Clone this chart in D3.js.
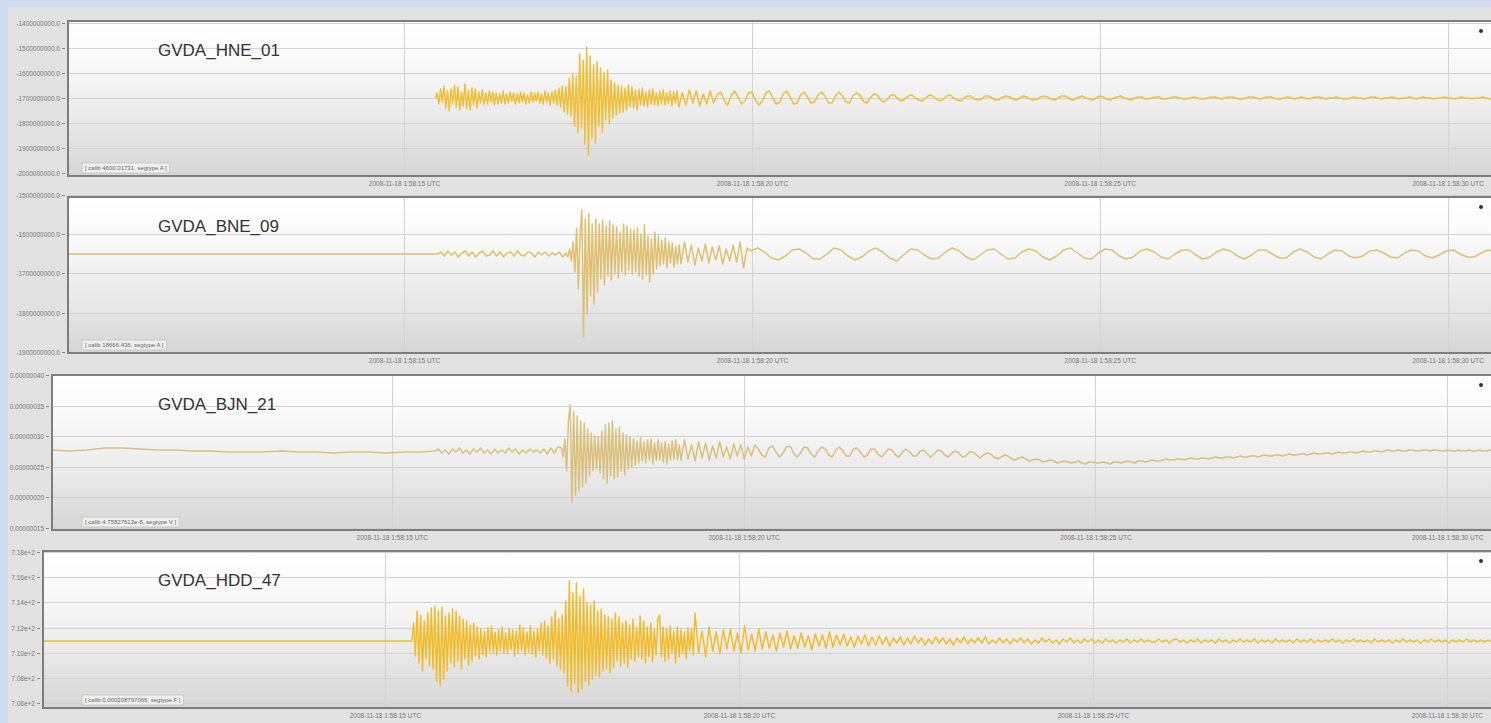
<!DOCTYPE html>
<html>
<head>
<meta charset="utf-8">
<script src="https://cdn.jsdelivr.net/npm/d3@7"></script>
<style>
  html, body { margin: 0; padding: 0; background: #cfdbee; overflow: hidden; }
  svg { display: block; }
</style>
</head>
<body>
<svg id="chart" width="1491" height="723"></svg>
<script>
// ---- Data -----------------------------------------------------------
// Time is in seconds after 2008-11-18 01:58:00 UTC.
const timeDomain = [10.17, 30.68];
const timeTicks = [15, 20, 25, 30];
const timeTickLabels = [
  "2008-11-18 1:58:15 UTC",
  "2008-11-18 1:58:20 UTC",
  "2008-11-18 1:58:25 UTC",
  "2008-11-18 1:58:30 UTC"
];

const stationNames = ["GVDA_HNE_01", "GVDA_BNE_09", "GVDA_BJN_21", "GVDA_HDD_47"];
const calibLabels = [
  "[ calib 4600.01731, segtype A ]",
  "[ calib 18666.436, segtype A ]",
  "[ calib 4.75827613e-8, segtype V ]",
  "[ calib 0.000208797066, segtype F ]"
];

// amplitude ranges and tick values per channel
const yDomains = [[-78, 77], [-99, 57], [-79, 76], [-67, 90]];
const yTickValues = [
  [75, 50, 25, 0, -25, -50, -75],
  [59, 20, -19, -59, -98],
  [76, 45, 15, -16, -46, -77],
  [89, 64, 39, 13, -12, -37, -62]
];
const yTickLabels = [
  ["-1400000000.0", "-1500000000.0", "-1600000000.0", "-1700000000.0", "-1800000000.0", "-1900000000.0", "-2000000000.0"],
  ["-1500000000.0", "-1600000000.0", "-1700000000.0", "-1800000000.0", "-1900000000.0"],
  ["0.00000040", "0.00000035", "0.00000030", "0.00000025", "0.00000020", "0.00000015"],
  ["7.18e+2", "7.16e+2", "7.14e+2", "7.12e+2", "7.10e+2", "7.08e+2", "7.06e+2"]
];

// GVDA_HNE_01 — record starts with the P arrival (fine sampling), then coda
const hneBurstStart = 15.45, hneBurstStep = 0.025;
const hneBurst = [
  0, 5, -6, 9, -4, 12, -10, 7, -13, 9,
  -6, 13, -9, 11, -12, 6, -8, 14, -11, 8,
  -12, 10, -7, 9, -10, 6, -5, 8, -7, 5,
  -6, 7, -4, 6, -7, 5, -6, 4, -5, 7,
  -6, 4, -5, 6, -3, 5, -6, 4, -5, 6,
  -4, 5, -6, 3, -5, 6, -4, 5, -3, 6,
  -5, 4, -6, 7, -4, 5, -7, 6, -5, 8,
  -7, 10, -9, 12, -14, 11, -16, 20, -18, 24,
  -28, 22, -35, 44, -30, 38, -46, 51, -57, 42,
  -40, 33, -45, 36, -28, 30, -34, 25, -22, 28,
  -26, 18, -20, 15, -17, 13, -15, 12, -14, 10,
  -12, 13, -9, 11, -10, 8, -12, 9, -7, 10,
  -8, 6, -9, 8, -6, 9, -7, 5, -8, 7,
  -6, 8, -7, 5, -6, 7, -8, 6, -5, 7
];
const hneCodaStart = 18.95, hneCodaStep = 0.05;
const hneCoda = [
  -9, 5, -7, 8, -5, 7, -8, 4, -6, 7,
  -5, 3, 6, -2, -7, 2, 7, 1, -6, -3,
  5, 6, -2, -7, -3, 5, 7, 0, -6, -4,
  4, 7, 1, -6, -5, 3, 6, 1, -5, -4,
  3, 6, 2, -5, -5, 2, 6, 2, -4, -5,
  2, 5, 3, -3, -5, 0, 4, 3, -2, -4,
  -1, 3, 3, -1, -3, -1, 2, 3, 0, -2,
  -3, 0, 3, 2, -1, -3, -1, 2, 3, 0,
  -2, -3, 0, 2, 2, -1, -2, -1, 2, 2,
  0, -2, -2, 1, 2, 1, -1, -2, 0, 2,
  1, -1, -2, -1, 1, 2, 1, -1, -2, 0,
  2, 2, 0, -2, -1, 1, 2, 0, -1, -2,
  0, 2, 1, -1, -2, 0, 1, 2, 0, -1,
  -2, 0, 1, 1, -1, -1, 0, 1, 1, -1,
  -1, 0, 1, 1, 0, -1, -1, 0, 1, 0,
  -1, -1, 0, 1, 1, 0, -1, 0, 1, 1,
  0, -1, -1, 0, 1, 1, 0, -1, 0, 1,
  1, 0, -1, -1, 0, 1, 0, -1, 0, 1,
  0, -1, 0, 1, 1, 0, -1, 0, 0, 1,
  0, -1, -1, 0, 1, 0, 0, -1, 0, 1,
  1, 0, -1, 0, 0, 1, 0, -1, 0, 0,
  1, 0, -1, 0, 1, 0, 0, -1, 0, 0,
  1, 0, 0, -1, 0, 1, 0, 0, -1, 0,
  0, 1, 0, -1, 0, 0
];

// GVDA_BNE_09
const bneQuietStart = 10.17, bneQuietStep = 0.5;
const bneQuiet = [0, 0, 0, 0, 0, 0, 0, 0, 0, 0, 0];
const bnePreStart = 15.48, bnePreStep = 0.05;
const bnePre = [
  0, 2, -2, 3, -1, 2, -3, 1, 3, -2,
  2, -3, 1, 3, -2, -1, 3, -2, 2, -3,
  1, 2, -2, 3, -1, -2, 2, 1, -3, 2,
  -1, 2, -2, 1, -1, 2, -3
];
const bneBurstStart = 17.33, bneBurstStep = 0.025;
const bneBurst = [
  1, -3, 5, -7, 12, -18, 26, -35, 20, 44,
  -83, 35, -60, 40, -42, 30, -50, 35, -38, 30,
  -25, 34, -31, 28, -22, 33, -26, 29, -20, 27,
  -24, 22, -18, 30, -21, 28, -16, 25, -20, 24,
  -18, 26, -22, 20, -25, 29, -21, 18, -28, 15,
  -20, 22, -15, 18, -12, 14, -10, 16, -14, 12,
  -9, 11, -13, 8, -10, 9
];
const bneCodaStart = 18.98, bneCodaStep = 0.05;
const bneCoda = [
  -10, 12, -8, 9, -11, 6, -7, 10, -9, 7,
  -6, 8, -10, 5, -7, 9, -8, 12, -14, 6
];
// long-period surface waves
const bneLateStart = 19.98, bneLateStep = 0.1;
const bneLate = [
  3, 6, 2, -4, -6, -2, 4, 5, 1, -5,
  -5, 0, 6, 4, -2, -6, -3, 3, 6, 2,
  -4, -7, -1, 5, 4, -1, -5, -4, 2, 6,
  3, -3, -6, -1, 4, 5, 0, -5, -4, 2,
  5, 3, -3, -6, -2, 4, 6, 1, -4, -5,
  1, 5, 4, -2, -5, -3, 3, 5, 2, -3,
  -5, 0, 4, 4, -1, -5, -3, 2, 5, 3,
  -2, -5, -1, 4, 4, 0, -4, -4, 2, 5,
  2, -3, -5, 0, 4, 3, -2, -4, -2, 3,
  4, 1, -3, -4, 1, 4, 3, -2, -4, -1,
  3, 4, 0, -3, -3, 1, 4, 2
];

// GVDA_BJN_21
const bjnQuietStart = 10.17, bjnQuietStep = 0.25;
const bjnQuiet = [1, 0, 1, 3, 3, 2, 1, 1, 0, 0, -1, -1, -1, 0, -1, -1, -2, -1, -1, -2, -1, -1];
const bjnPreStart = 15.61, bjnPreStep = 0.05;
const bjnPre = [
  0, 2, -2, 1, -3, 2, -1, 3, -2, 1,
  -3, 2, -1, 3, -2, 1, -3, 2, -2, 1,
  -2, 3, -1, 2, -3, 1, -2, 2, -1, 1,
  -2, 2, -3, 3, -2, 4
];
const bjnBurstStart = 17.41, bjnBurstStep = 0.025;
const bjnBurst = [
  3, -6, 12, -20, 30, 46, -51, 40, -44, 35,
  -40, 30, -36, 28, -32, 22, -25, 18, -20, 15,
  -18, 14, -22, 20, -28, 26, -32, 28, -25, 30,
  -28, 22, -26, 24, -20, 18, -24, 16, -18, 14,
  -16, 12, -14, 10, -12, 13, -10, 9, -12, 11,
  -9, 12, -13, 8, -10, 11, -9, 8, -11, 9,
  -13, 7, -9, 10, -8, 11, -9, 6
];
const bjnCodaStart = 19.11, bjnCodaStep = 0.05;
const bjnCoda = [
  -9, 11, -8, 6, -10, 9, -7, 8, -9, 5,
  -7, 9, -6, 4, -8, 7, -5, 6, -8, 4,
  -5, 6, 2, -4, -6, 3, 5, -1, -6, -2,
  4, 5, -2, -6, -2, 4, 3, -3, -6, 0,
  4, 2, -4, -6, 1, 4, 0, -5, -5, 2,
  3, -1, -6, -4, 2, 2, -3, -6, -2, 2,
  1, -4, -6, -1, 2, -1, -5, -5, 0, 1,
  -3, -6, -3, 1, 0, -4, -6, -2, 0, -2,
  -6, -5, -1, -1, -4, -7, -4, -2, -3, -6,
  -8, -6, -4, -5, -8, -9, -7, -6, -8, -10,
  -9, -8, -9, -11, -10, -9, -10, -12, -11, -10,
  -11, -12, -11, -10, -12, -13, -11, -11, -12, -12,
  -11, -12, -13, -11, -11, -12, -11, -10, -11, -12,
  -10, -10, -11, -10, -9, -10, -10, -9, -8, -9,
  -9, -8, -8, -9, -8, -7, -8, -8, -7, -7,
  -8, -7, -6, -7, -7, -6, -6, -7, -6, -5,
  -6, -6, -5, -5, -6, -5, -4, -5, -5, -4,
  -4, -5, -4, -3, -4, -4, -3, -3, -4, -3,
  -2, -3, -3, -2, -2, -3, -2, -1, -2, -2,
  -1, -1, -2, -1, 0, -1, -1, 0, 0, -1,
  0, 1, 0, 0, 1, 0, 0, 1, 1, 0,
  0, 1, 1, 0, 1, 1, 0, 0, 1, 0,
  0, 1, 0, 0, 1, 0, 0, 1, 0, 0,
  1, 0
];

// GVDA_HDD_47
const hddQuietStart = 10.17, hddQuietStep = 0.5;
const hddQuiet = [0, 0, 0, 0, 0, 0, 0, 0, 0, 0, 0];
const hddBurstStart = 15.38, hddBurstStep = 0.025;
const hddBurst = [
  0, 18, -15, 30, -22, 26, -30, 20, -18, 28,
  -25, 33, -28, 35, -40, 30, -45, 34, -38, 25,
  -30, 28, -22, 32, -26, 30, -20, 25, -28, 22,
  -18, 20, -24, 16, -20, 18, -15, 14, -18, 12,
  -14, 10, -16, 13, -11, 15, -12, 9, -14, 11,
  -10, 14, -12, 8, -13, 12, -9, 11, -15, 10,
  -12, 16, -10, 13, -14, 9, -11, 15, -13, 10,
  -16, 12, -10, 18, -14, 20, -17, 15, -22, 24,
  -18, 30, -25, 22, -28, 26, -32, 40, -45, 60,
  -50, 48, -42, 58, -52, 45, -48, 52, -40, 38,
  -44, 36, -38, 40, -34, 30, -36, 32, -30, 26,
  -28, 24, -32, 22, -26, 28, -20, 24, -25, 18,
  -22, 20, -26, 16, -18, 22, -20, 14, -16, 25,
  -18, 20, -22, 14, -16, 18, -20, 12, -14, 22,
  26, -16, 14, -20, 12, -18, 15, -12, 10, -22,
  14, -16, 11, -12, 9, -18, 13, -10, 12, -14
];
const hddCodaStart = 19.38, hddCodaStep = 0.05;
const hddCoda = [
  28, -12, 10, -16, 14, -10, 9, -13, 11, -8,
  12, -10, 8, -12, 15, -9, 7, -10, 12, -8,
  9, -7, 6, -10, 8, -6, 10, -8, 5, -7,
  8, -6, 5, -9, 7, -5, 6, -7, 9, -6,
  6, -4, 7, -5, 4, -6, 5, -3, 6, -5,
  4, -4, 5, -3, 4, -5, 3, -2, 4, -4,
  3, -3, 5, -2, 3, -4, 2, -3, 4, -2,
  3, -3, 2, -4, 3, -2, 4, -3, 2, -2,
  3, -2, 4, -3, 1, -2, 3, -2, 2, -3,
  2, -1, 3, -2, 2, -3, 1, -2, 3, -1,
  2, -2, 1, -3, 2, -1, 3, -2, 1, -2,
  2, -1, 2, -2, 1, -2, 2, -1, 1, -2,
  1, -1, 2, -2, 1, -1, 2, -1, 1, -1,
  -1, 2, -1, 1, -2, 1, 2, -1, 1, -2,
  1, -1, 2, -2, 1, -1, 1, -2, 2, -1,
  1, -2, 1, -1, 2, -1, 1, -1, 2, -2,
  1, -1, 1, -2, 2, -1, 1, -1, 1, -2,
  2, -1, 1, -1, 2, -2, 1, -1, 1, -1,
  2, -1, 1, -2, 1, -1, 2, -1, 1, -1,
  1, -2, 2, -1, 1, -1, 1, -2, 1, -1,
  2, -1, 1, -1, 1, -2, 1, -1, 2, -1,
  1, -1, 1, -2, 1, -1, 1, -1, 2, -1,
  1, -1, 1, -1, 1, -1, 1
];

const traceSegments = [
  [{ start: hneBurstStart, step: hneBurstStep, values: hneBurst },
   { start: hneCodaStart, step: hneCodaStep, values: hneCoda }],
  [{ start: bneQuietStart, step: bneQuietStep, values: bneQuiet },
   { start: bnePreStart, step: bnePreStep, values: bnePre },
   { start: bneBurstStart, step: bneBurstStep, values: bneBurst },
   { start: bneCodaStart, step: bneCodaStep, values: bneCoda },
   { start: bneLateStart, step: bneLateStep, values: bneLate }],
  [{ start: bjnQuietStart, step: bjnQuietStep, values: bjnQuiet },
   { start: bjnPreStart, step: bjnPreStep, values: bjnPre },
   { start: bjnBurstStart, step: bjnBurstStep, values: bjnBurst },
   { start: bjnCodaStart, step: bjnCodaStep, values: bjnCoda }],
  [{ start: hddQuietStart, step: hddQuietStep, values: hddQuiet },
   { start: hddBurstStart, step: hddBurstStep, values: hddBurst },
   { start: hddCodaStart, step: hddCodaStep, values: hddCoda }]
];

// ---- Layout & style --------------------------------------------------
const W = 1491, H = 723;
const plotRight = 1495;
const panelBoxes = [
  { top: 21, bottom: 176, left: 68 },
  { top: 197, bottom: 353, left: 68 },
  { top: 375, bottom: 530, left: 52 },
  { top: 551, bottom: 708, left: 43 }
];
const traceColors = ["#efbf38", "#dfc070", "#d9c07c", "#f1bc2c"];

const svg = d3.select("#chart");
svg.append("rect").attr("width", W).attr("height", H).attr("fill", "#cfdbee");
svg.append("rect").attr("x", 8).attr("y", 7).attr("width", W).attr("height", H).attr("fill", "#e2e2e2");

const defs = svg.append("defs");
const grad = defs.append("linearGradient").attr("id", "plotBg")
  .attr("x1", 0).attr("y1", 0).attr("x2", 0).attr("y2", 1);
[[0, "#ffffff"], [0.3, "#f8f8f8"], [0.65, "#e9e9e9"], [1, "#d6d6d6"]]
  .forEach(([o, c]) => grad.append("stop").attr("offset", o).attr("stop-color", c));

const line = d3.line().curve(d3.curveLinear);

panelBoxes.forEach((box, i) => {
  const g = svg.append("g");
  const x = d3.scaleLinear().domain(timeDomain).range([box.left, plotRight]);
  const y = d3.scaleLinear().domain(yDomains[i]).range([box.bottom, box.top]);

  // plot background
  g.append("rect")
    .attr("x", box.left).attr("y", box.top)
    .attr("width", plotRight - box.left).attr("height", box.bottom - box.top)
    .attr("fill", "url(#plotBg)");

  // horizontal grid
  g.selectAll(".hgrid").data(yTickValues[i]).join("line")
    .attr("x1", box.left).attr("x2", plotRight)
    .attr("y1", d => Math.round(y(d)) + 0.5).attr("y2", d => Math.round(y(d)) + 0.5)
    .attr("stroke", "#d2d2d2").attr("stroke-width", 1);

  // vertical grid
  g.selectAll(".vgrid").data(timeTicks).join("line")
    .attr("x1", d => Math.round(x(d)) + 0.5).attr("x2", d => Math.round(x(d)) + 0.5)
    .attr("y1", box.top).attr("y2", box.bottom)
    .attr("stroke", "#d3d3d3").attr("stroke-width", 1);

  // trace
  const clipId = "clip" + i;
  defs.append("clipPath").attr("id", clipId).append("rect")
    .attr("x", box.left).attr("y", box.top)
    .attr("width", plotRight - box.left).attr("height", box.bottom - box.top);
  const pts = [];
  traceSegments[i].forEach(seg => {
    seg.values.forEach((v, k) => pts.push([x(seg.start + k * seg.step), y(v)]));
  });
  g.append("path")
    .attr("clip-path", `url(#${clipId})`)
    .attr("d", line(pts))
    .attr("fill", "none")
    .attr("stroke", traceColors[i])
    .attr("stroke-width", 1.5)
    .attr("stroke-linejoin", "round");

  // frame
  g.append("rect")
    .attr("x", box.left).attr("y", box.top)
    .attr("width", plotRight - box.left + 4).attr("height", box.bottom - box.top)
    .attr("fill", "none").attr("stroke", "#7d7d7d").attr("stroke-width", 2);

  // y axis
  const yAxis = d3.axisLeft(y).tickValues(yTickValues[i])
    .tickFormat((d, j) => yTickLabels[i][j]).tickSize(3).tickPadding(2);
  const ya = g.append("g").attr("transform", `translate(${box.left - 3},0)`).call(yAxis);
  ya.select(".domain").remove();
  ya.selectAll("line").attr("stroke", "#888");
  ya.selectAll("text").attr("fill", "#777").style("font", "6.5px 'Liberation Sans', Arial, sans-serif");

  // x axis
  const xAxis = d3.axisBottom(x).tickValues(timeTicks)
    .tickFormat((d, j) => timeTickLabels[j]).tickSize(0).tickPadding(5);
  const xa = g.append("g").attr("transform", `translate(0,${box.bottom})`).call(xAxis);
  xa.select(".domain").remove();
  xa.selectAll("text").attr("fill", "#777").style("font", "6.5px 'Liberation Sans', Arial, sans-serif");

  // station title
  g.append("text")
    .attr("x", 158).attr("y", box.top + 35)
    .attr("fill", "#333")
    .style("font", "17px 'Liberation Sans', Arial, sans-serif")
    .text(stationNames[i]);

  // calibration box
  const cal = g.append("g").attr("transform", `translate(82,${box.bottom - 13})`);
  const calText = cal.append("text").attr("x", 3).attr("y", 7)
    .attr("fill", "#666")
    .style("font", "6px 'Liberation Sans', Arial, sans-serif")
    .text(calibLabels[i]);
  const tw = calText.node().getComputedTextLength();
  cal.insert("rect", "text").attr("x", 0).attr("y", 0)
    .attr("width", tw + 6).attr("height", 10)
    .attr("fill", "#efefef").attr("stroke", "#c4c4c4").attr("stroke-width", 0.8);

  // corner marker
  g.append("circle").attr("cx", 1481).attr("cy", box.top + 10).attr("r", 2).attr("fill", "#333");
});
</script>
</body>
</html>
